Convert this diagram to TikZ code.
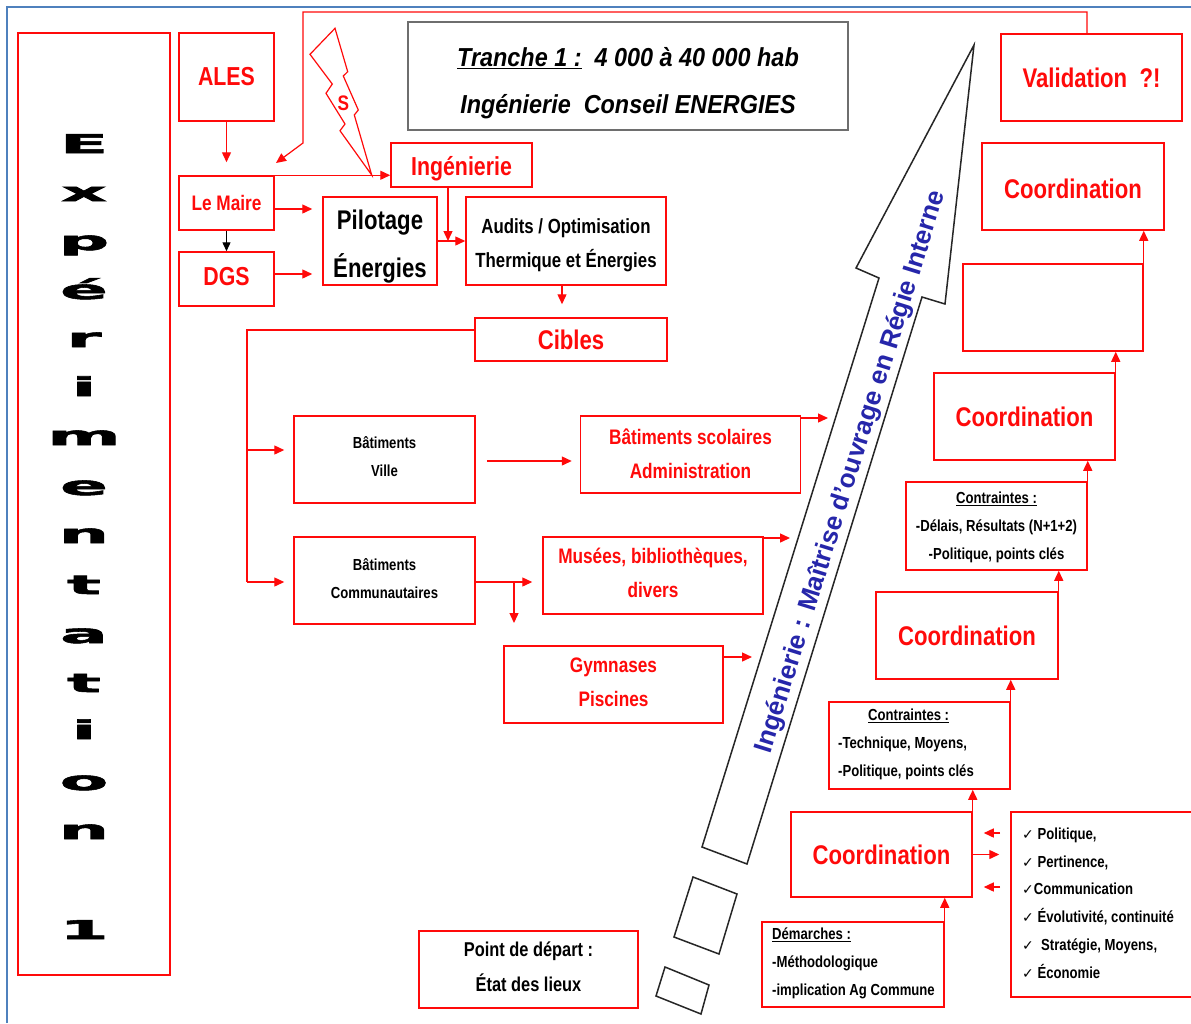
\documentclass[tikz,border=0pt]{standalone}
\usepackage{graphicx}
\usepackage{fontspec}
\setmainfont{Liberation Sans}
\newfontfamily\nar{Liberation Sans}[FakeStretch=0.82]
\newfontfamily\titf{Liberation Sans}[FakeStretch=0.9]
\newfontfamily\heavy{DejaVu Sans}[UprightFeatures={FakeBold=2}, BoldFeatures={FakeBold=2}]
\newfontfamily\dejavu{DejaVu Sans}
\usetikzlibrary{arrows.meta}
\definecolor{rd}{RGB}{255,10,10}
\definecolor{bl}{RGB}{38,38,170}
\definecolor{framebl}{RGB}{79,129,189}
\definecolor{gr}{RGB}{110,110,110}
\tikzset{
  rbox/.style={draw=rd, line width=1.5pt, inner sep=0pt, align=center},
  rl/.style={draw=rd, line width=1.4pt},
  arr/.style={draw=rd, line width=1.4pt, -{Triangle[length=10pt,width=9pt]}},
  barr/.style={draw=black, line width=1.4pt, -{Triangle[length=9pt,width=8pt]}},
  outl/.style={draw=black!85, line width=1.5pt, line join=miter},
}
\newcommand{\fs}[2]{\fontsize{#1}{#2}\selectfont}
\newcommand{\ck}{{\dejavu\fs{14}{14}✓}}
\newcommand{\dn}[2]{\raisebox{-#1pt}[\height][\depth]{#2}}
\begin{document}
\begin{tikzpicture}[x=1pt,y=-1pt]
\useasboundingbox (0,0) rectangle (1191,1023);
\fill[white] (0,0) rectangle (1191,1023);
% blue frame
\draw[framebl, line width=2.5pt] (7,1023) -- (7,7) -- (1191,7);

% Expérimentation box
\node[rbox, line width=1.2pt, minimum width=152pt, minimum height=942pt] (exp) at (94,504) {};
\foreach \ch/\yy [count=\i] in {E/153, x/201, p/250, é/299, r/347, i/396, m/445, e/495, n/543, t/594, a/643, t/692, i/739, o/790, n/839, 1/939}
  \node[font={\heavy\bfseries\fs{26}{26}}, inner sep=0pt, anchor=base] (lt\i) at (84,\yy) {\scalebox{2.7}[1]{\ch}};

% left column
\node[rbox, minimum width=95pt, minimum height=88pt, text=rd, font={\nar\bfseries\fs{26}{30}}] (ales) at (226.5,77) {ALES};
\node[rbox, minimum width=95pt, minimum height=54pt, text=rd, font={\nar\bfseries\fs{21}{24}}] (maire) at (226.5,203) {Le Maire};
\node[rbox, minimum width=95pt, minimum height=54pt, text=rd, font={\nar\bfseries\fs{26}{30}}] (dgs) at (226.5,279) {\dn{-2}{DGS}};
\node[rbox, minimum width=114pt, minimum height=88pt, font={\nar\bfseries\fs{27}{48}}] (pilot) at (380,241) {\dn{6}{Pilotage}\\\dn{6}{Énergies}};
\node[rbox, minimum width=141pt, minimum height=44pt, text=rd, font={\nar\bfseries\fs{26}{30}}] (ing) at (461.5,165) {\dn{4}{Ingénierie}};
\node[rbox, minimum width=200pt, minimum height=88pt, font={\nar\bfseries\fs{20.5}{34}}] (audits) at (566,241) {\dn{4}{Audits / Optimisation}\\\dn{4}{Thermique et Énergies}};
\node[draw=gr, line width=2pt, inner sep=0pt, align=center, minimum width=440pt, minimum height=108pt, font={\titf\bfseries\itshape\fs{26}{47}}] (title) at (628,76) {\dn{7}{\underline{Tranche 1 :}\ \ 4 000 à 40 000 hab}\\\dn{7}{Ingénierie\ \ Conseil ENERGIES}};

% lightning bolt
\draw[rd, line width=1.2pt, line join=miter, fill=white] (335,28.3) -- (347.7,71.7) -- (343.3,76) -- (358.3,110) -- (354.3,115) -- (371.7,175) -- (340,130.7) -- (345,124) -- (326,93.3) -- (332.3,84) -- (310,54.3) -- cycle;
\node[text=rd, font={\nar\bfseries\fs{21}{21}}, inner sep=0pt] (sbolt) at (343.3,103.3) {S};

% targets
\node[rbox, minimum width=192pt, minimum height=43pt, text=rd, font={\nar\bfseries\fs{27}{30}}] (cibles) at (571,339.5) {Cibles};
\node[rbox, minimum width=181pt, minimum height=87pt, font={\nar\bfseries\fs{16}{28}}] (bville) at (384.5,459.5) {\dn{-3}{Bâtiments}\\\dn{-3}{Ville}};
\node[rbox, minimum width=220pt, minimum height=77pt, text=rd, font={\nar\bfseries\fs{21}{34}}] (bscol) at (690.5,454.5) {\dn{-1}{Bâtiments scolaires}\\\dn{-1}{Administration}};
\node[rbox, minimum width=181pt, minimum height=87pt, font={\nar\bfseries\fs{16}{28}}] (bcomm) at (384.5,580.5) {\dn{-2}{Bâtiments}\\\dn{-2}{Communautaires}};
\node[rbox, minimum width=220pt, minimum height=77pt, text=rd, font={\nar\bfseries\fs{21}{34}}] (musees) at (653,575.5) {\dn{-3}{Musées, bibliothèques,}\\\dn{-3}{divers}};
\node[rbox, minimum width=219pt, minimum height=77pt, text=rd, font={\nar\bfseries\fs{21}{34}}] (gym) at (613.5,684.5) {\dn{-2}{Gymnases}\\\dn{-2}{Piscines}};
\node[rbox, minimum width=219pt, minimum height=77pt, font={\nar\bfseries\fs{20}{35}}] (point) at (528.5,969.5) {\dn{-3}{Point de départ :}\\\dn{-3}{État des lieux}};

% right column
\node[rbox, minimum width=181pt, minimum height=87pt, text=rd, font={\nar\bfseries\fs{27}{30}}] (valid) at (1091.5,77.5) {Validation\ \ ?!};
\node[rbox, minimum width=182pt, minimum height=87pt, text=rd, font={\nar\bfseries\fs{27}{30}}] (coord1) at (1073,186.5) {\dn{2}{Coordination}};
\node[rbox, minimum width=180pt, minimum height=87pt] (empty) at (1053,307.5) {};
\node[rbox, minimum width=181pt, minimum height=87pt, text=rd, font={\nar\bfseries\fs{27}{30}}] (coord2) at (1024.5,416.5) {Coordination};
\node[rbox, minimum width=181pt, minimum height=88pt, font={\nar\bfseries\fs{16}{28}}] (contr1) at (996.5,526) {\dn{1}{\underline{Contraintes :}}\\\dn{1}{-Délais, Résultats (N+1+2)}\\\dn{1}{-Politique, points clés}};
\node[rbox, minimum width=182pt, minimum height=87pt, text=rd, font={\nar\bfseries\fs{27}{30}}] (coord3) at (967,635.5) {Coordination};
\node[rbox, minimum width=181pt, minimum height=87pt] (contr2) at (919.5,745.5) {};
\node[font={\nar\bfseries\fs{16}{28}}, align=left, anchor=west, inner sep=0pt] (contr2t) at (838,744) {\hspace*{30pt}\underline{Contraintes :}\\-Technique, Moyens,\\-Politique, points clés};
\node[rbox, minimum width=181pt, minimum height=85pt, text=rd, font={\nar\bfseries\fs{27}{30}}] (coord4) at (881.5,854.5) {Coordination};
\node[rbox, minimum width=182pt, minimum height=85pt] (demar) at (853,964.5) {};
\node[font={\nar\bfseries\fs{16}{28}}, align=left, anchor=west, inner sep=0pt] (demart) at (772,963) {\underline{Démarches :}\\-Méthodologique\\-implication Ag Commune};
\node[rbox, minimum width=190pt, minimum height=185pt] (check) at (1106,904.5) {};
\node[font={\nar\bfseries\fs{16}{27.8}}, align=left, anchor=west, inner sep=0pt] (checkt) at (1022,903) {\ck\ Politique,\\\ck\ Pertinence,\\\ck Communication\\\ck\ Évolutivité, continuité\\\ck\ \ Stratégie, Moyens,\\\ck\ Économie};

% big arrow and blocks
\draw[outl, fill=white] (974,45) -- (945,304) -- (922,297) -- (747,864) -- (702,847) -- (879,278) -- (856,268) -- cycle;
\draw[outl] (693,877) -- (737,894) -- (719,954) -- (674,937) -- cycle;
\draw[outl] (665,967) -- (709,985) -- (701,1014) -- (656,996) -- cycle;
\node[rotate=72.7, text=bl, font={\bfseries\fs{26}{26}}, inner sep=0pt] (atext) at (851,472) {Ingénierie : Maîtrise d’ouvrage en Régie Interne};

% connectors, left part
\draw[arr, shorten >=13pt] (ales.south) -- (maire.north);
\coordinate (v1) at (1087,12);
\coordinate (v2) at (303,12);
\coordinate (v3) at (303,143);
\coordinate (v4) at (276,163);
\draw[arr, line width=1.2pt] (valid.north -| v1) -- (v1) -- (v2) -- (v3) -- (v4);
\draw[arr] (maire.north east) -- (maire.north east -| ing.west);
\draw[arr, shorten >=10pt] ([yshift=-6pt]maire.east) -- ([yshift=-6pt]maire.east -| pilot.west);
\draw[arr, shorten >=10pt] ([yshift=5pt]dgs.east) -- ([yshift=5pt]dgs.east -| pilot.west);
\draw[barr] (maire.south) -- (dgs.north);
\coordinate (j) at (448,241);
\draw[arr] (ing.south -| j) -- (j);
\draw[arr] (pilot.east) -- (audits.west);
\draw[arr, shorten >=13pt] ([xshift=-4pt]audits.south) -- ([xshift=-4pt]audits.south |- cibles.north);
\coordinate (k1) at (247,330);
\coordinate (k2) at (247,450);
\coordinate (k3) at (247,582);
\draw[rl] ([yshift=9.5pt]cibles.west) -- (k1) -- (k3);
\draw[arr, shorten >=9pt] (k2) -- (k2 -| bville.west);
\draw[arr, shorten >=9pt] (k3) -- (k3 -| bcomm.west);
\draw[arr, shorten <=11pt, shorten >=8pt] ([yshift=-1.5pt]bville.east) -- ([yshift=-1.5pt]bville.east -| bscol.west);
\coordinate (o1) at (828,418);
\draw[arr] (o1 -| bscol.east) -- (o1);
\draw[arr, shorten >=10pt] ([yshift=-1.5pt]bcomm.east) -- ([yshift=-1.5pt]bcomm.east -| musees.west);
\coordinate (o2a) at (514,582);
\coordinate (o2) at (514,623);
\draw[arr] (o2a) -- (o2);
\coordinate (o3) at (790,538);
\draw[arr] (o3 -| musees.east) -- (o3);
\coordinate (o4) at (752,657);
\draw[arr] (o4 -| gym.east) -- (o4);

% connectors, right column
\draw[arr] (empty.north east) -- (empty.north east |- coord1.south);
\draw[arr] (coord2.north east) -- (coord2.north east |- empty.south);
\draw[arr] (contr1.north east) -- (contr1.north east |- coord2.south);
\draw[arr] (coord3.north east) -- (coord3.north east |- contr1.south);
\draw[arr] (contr2.north east) -- (contr2.north east |- coord3.south);
\draw[arr] (coord4.north east) -- (coord4.north east |- contr2.south);
\draw[arr] (demar.north east) -- (demar.north east |- coord4.south);
\coordinate (q1) at (1011,833);
\coordinate (q3) at (1011,887);
\draw[arr, shorten <=11pt, shorten >=11pt] (q1) -- (q1 -| coord4.east);
\draw[arr, shorten >=11pt] (coord4.east) -- (coord4.east -| check.west);
\draw[arr, shorten <=11pt, shorten >=11pt] (q3) -- (q3 -| coord4.east);
\end{tikzpicture}
\end{document}
